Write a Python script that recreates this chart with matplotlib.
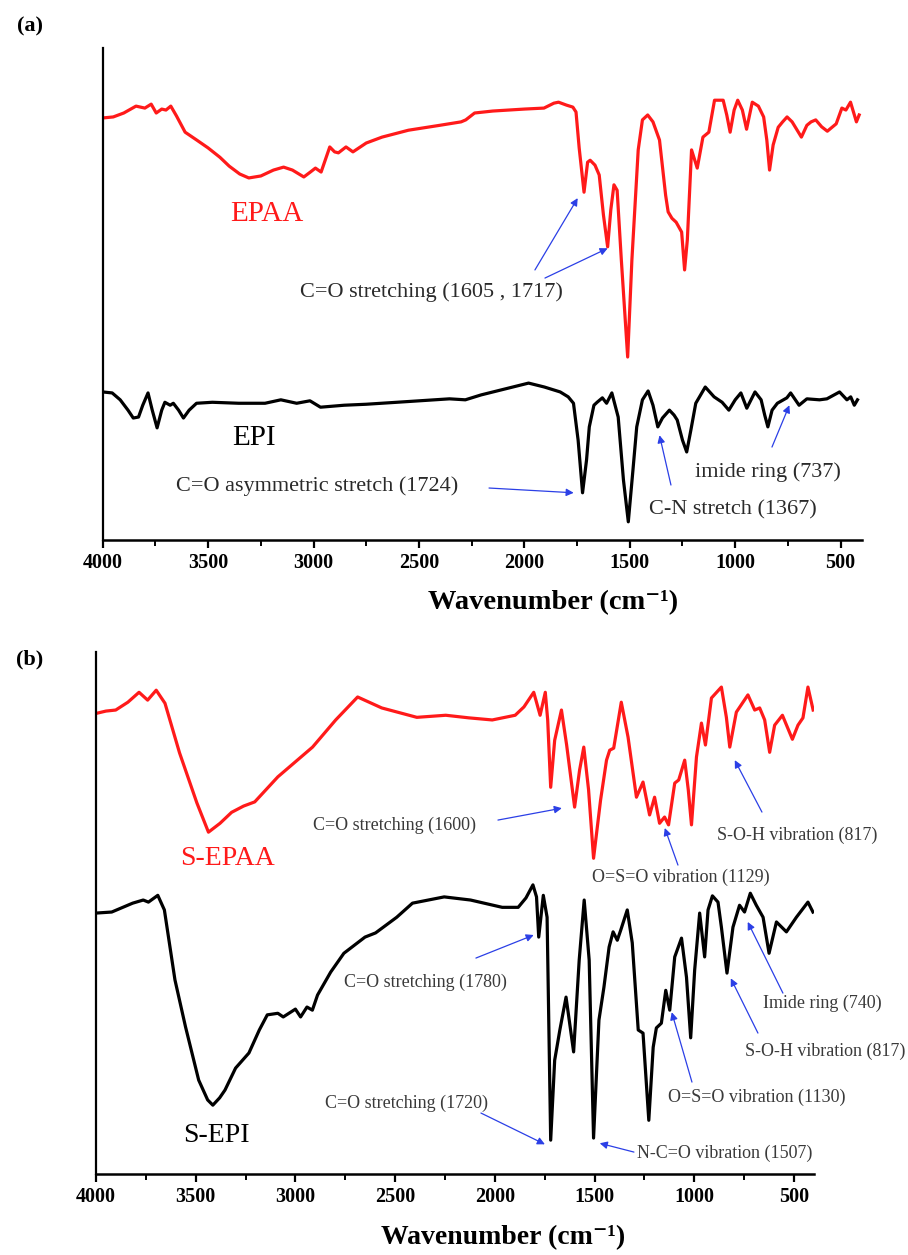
import matplotlib
matplotlib.use("Agg")
import matplotlib.pyplot as plt
from matplotlib.ticker import MultipleLocator

plt.rcParams["font.family"] = ["Liberation Serif", "DejaVu Serif"]

# ---------------- (a) EPAA / EPI ----------------
epaa_wn = [3998, 3950, 3900, 3842, 3800, 3770, 3746, 3720, 3700, 3677, 3650, 3609, 3554, 3500,
           3444, 3400, 3350, 3307, 3250, 3190, 3142, 3100, 3046, 3015, 2991, 2964, 2923, 2900,
           2882, 2846, 2813, 2750, 2675, 2550, 2401, 2300, 2278, 2236, 2150, 2000, 1907, 1860,
           1838, 1800, 1770, 1755, 1740, 1717, 1700, 1688, 1665, 1645, 1625, 1605, 1590, 1575,
           1560, 1540, 1510, 1490, 1460, 1440, 1415, 1390, 1359, 1330, 1318, 1300, 1280, 1254,
           1240, 1227, 1207, 1180, 1153, 1125, 1098, 1057, 1040, 1024, 1005, 988, 966, 946, 919,
           890, 865, 850, 837, 820, 796, 775, 754, 730, 686, 660, 640, 618, 590, 563, 521, 494,
           475, 453, 425, 412]
epaa_t = [85.8, 86.0, 86.8, 88.2, 87.8, 88.6, 86.8, 87.6, 87.4, 88.2, 86.2, 82.9, 81.3, 79.7,
          77.8, 76.0, 74.4, 73.6, 74.0, 75.2, 75.8, 75.2, 73.8, 74.8, 75.6, 74.8, 79.9, 78.9,
          78.7, 79.9, 78.9, 80.7, 81.9, 83.3, 84.3, 85.0, 85.4, 86.8, 87.2, 87.6, 87.8, 88.8,
          89.0, 88.4, 88.0, 87.0, 79.7, 70.7, 76.8, 77.2, 76.2, 74.2, 66.1, 59.6, 67.1, 72.2,
          71.1, 56.9, 37.2, 56.9, 79.3, 85.4, 86.4, 85.0, 81.3, 70.1, 66.7, 65.4, 64.6, 62.6,
          54.9, 61.0, 79.3, 75.6, 81.9, 82.9, 89.4, 89.4, 86.4, 82.9, 87.4, 89.4, 87.4, 83.5, 89.0,
          88.2, 86.0, 81.3, 75.2, 80.3, 83.9, 85.0, 86.0, 85.0, 81.9, 84.3, 85.0, 85.4, 84.0, 83.1,
          84.6, 87.8, 87.4, 89.0, 85.0, 86.4]

epi_wn = [4000, 3955, 3917, 3880, 3855, 3830, 3810, 3785, 3765, 3742, 3720, 3705, 3680, 3665,
          3640, 3617, 3590, 3555, 3480, 3355, 3230, 3155, 3080, 3017, 2967, 2855, 2750, 2605,
          2355, 2280, 2205, 2055, 1980, 1905, 1830, 1792, 1767, 1745, 1724, 1705, 1692, 1670,
          1655, 1630, 1610, 1585, 1555, 1530, 1507, 1485, 1467, 1440, 1413, 1390, 1367, 1345,
          1312, 1290, 1275, 1250, 1230, 1210, 1187, 1142, 1100, 1062, 1030, 1000, 973, 945, 906,
          877, 860, 845, 825, 800, 755, 737, 697, 660, 600, 565, 505, 470, 452, 435, 420]
epi_t = [30.1, 29.9, 28.5, 26.4, 24.8, 25.0, 27.4, 29.9, 26.4, 22.8, 26.4, 28.0, 27.4, 27.8,
         26.4, 24.8, 26.4, 27.8, 28.0, 27.8, 27.8, 28.5, 27.8, 28.3, 27.0, 27.4, 27.6, 28.0,
         28.7, 28.5, 29.5, 31.1, 31.9, 31.1, 30.1, 29.1, 27.8, 20.3, 9.6, 16.3, 23.0, 27.4,
         28.0, 28.9, 27.8, 29.9, 25.0, 12.2, 3.7, 14.2, 23.0, 28.5, 30.3, 27.4, 23.0, 24.8,
         26.4, 25.4, 24.4, 20.3, 17.9, 22.4, 27.8, 31.1, 29.1, 28.0, 26.4, 28.5, 29.9, 26.8, 30.1,
         28.5, 25.4, 23.0, 26.4, 27.8, 28.9, 29.9, 27.4, 28.7, 28.5, 28.7, 30.1, 28.5, 29.1, 27.4,
         28.5]

# ---------------- (b) S-EPAA / S-EPI ----------------
sepaa_wn = [3994, 3950, 3901, 3840, 3784, 3741, 3698, 3654, 3581, 3494, 3436, 3378, 3320, 3260,
            3204, 3088, 2972, 2914, 2798, 2688, 2567, 2391, 2246, 2130, 2013, 1898, 1854, 1805,
            1773, 1747, 1735, 1720, 1700, 1666, 1640, 1600, 1575, 1554, 1530, 1505, 1470, 1440,
            1424, 1404, 1366, 1332, 1290, 1257, 1224, 1199, 1174, 1149, 1129, 1098, 1078, 1048,
            1030, 1014, 989, 964, 944, 914, 864, 839, 822, 789, 731, 697, 672, 647, 622, 597, 558,
            508, 480, 455, 430, 404]
sepaa_t = [88.3, 88.7, 88.9, 90.4, 92.3, 90.8, 92.7, 90.2, 80.7, 71.1, 65.5, 67.2, 69.3, 70.5,
           71.3, 76.1, 79.9, 81.8, 87.0, 91.4, 89.3, 87.5, 87.9, 87.4, 87.0, 87.9, 89.5, 92.3,
           87.9, 92.3, 87.0, 74.1, 83.1, 88.9, 82.2, 70.3, 77.4, 81.8, 73.6, 60.5, 71.6, 79.3,
           81.2, 81.6, 90.4, 83.7, 72.2, 75.1, 68.8, 72.2, 67.2, 68.4, 66.9, 74.9, 75.5, 79.3,
           73.6, 66.9, 79.9, 86.4, 82.2, 91.2, 93.3, 87.5, 81.8, 88.5, 91.8, 88.9, 89.3, 87.0, 80.8,
           86.0, 87.9, 83.3, 86.0, 87.4, 93.3, 88.9]

sepi_wn = [4000, 3921, 3816, 3763, 3737, 3690, 3657, 3604, 3551, 3485, 3440, 3414, 3380, 3353,
           3300, 3233, 3181, 3141, 3088, 3061, 3000, 2974, 2942, 2915, 2889, 2823, 2757, 2651,
           2598, 2492, 2413, 2254, 2122, 1963, 1883, 1844, 1809, 1791, 1780, 1757, 1738, 1720,
           1700, 1674, 1643, 1605, 1577, 1552, 1527, 1505, 1478, 1453, 1427, 1407, 1386, 1369,
           1336, 1311, 1281, 1257, 1228, 1206, 1190, 1165, 1143, 1123, 1098, 1064, 1039, 1018,
           998, 973, 948, 931, 909, 881, 864, 836, 806, 773, 748, 719, 689, 655, 625, 588, 538,
           488, 430, 405]
sepi_t = [50.0, 50.2, 51.9, 52.5, 52.1, 53.4, 50.6, 37.2, 28.2, 18.0, 14.2, 13.2, 14.6, 16.1,
          20.3, 23.2, 27.6, 30.5, 30.8, 30.1, 31.6, 30.1, 32.0, 31.4, 34.3, 38.7, 42.3, 45.4,
          46.2, 49.2, 51.9, 53.1, 52.5, 51.1, 51.1, 52.9, 55.4, 53.1, 45.4, 53.4, 49.2, 6.5,
          21.8, 27.6, 33.9, 23.4, 41.0, 52.5, 41.0, 6.9, 29.5, 35.8, 43.5, 46.4, 44.8, 46.7,
          50.6, 44.3, 27.6, 27.0, 10.3, 24.3, 28.0, 28.9, 35.2, 31.4, 41.6, 45.2, 37.7, 26.1,
          39.1, 50.0, 41.6, 50.6, 53.3, 52.1, 47.3, 38.5, 47.3, 51.5, 50.2, 53.8, 51.5, 49.2, 42.3,
          48.3, 46.4, 49.2, 52.1, 50.2]

tick_values = [4000, 3500, 3000, 2500, 2000, 1500, 1000, 500]
tick_labels = ["4000", "3500", "3000", "2500", "2000", "1500", "1000", "500"]

# band assignments: (text, text x, text y, [(tail x, tail y, tip wavenumber, tip value), ...])
notes_a = [
    ("C=O stretching (1605 , 1717)", 0.260, 0.504,
     [(0.5695, 0.549, 1747, 69.5), (0.5827, 0.5325, 1605, 59.3)]),
    ("C=O asymmetric stretch (1724)", 0.0968, 0.110, [(0.509, 0.1057, 1766, 9.6)]),
    ("C-N stretch (1367)", 0.7197, 0.061, [(0.7487, 0.1118, 1359, 21.3)]),
    ("imide ring (737)", 0.7804, 0.138, [(0.8818, 0.189, 743, 27.4)]),
]
notes_b = [
    ("C=O stretching (1600)", 0.3022, 0.6686, [(0.5599, 0.6782, 1664, 70.1)]),
    ("S-O-H vibration (817)", 0.8649, 0.6494, [(0.9276, 0.6935, 797, 79.3)]),
    ("O=S=O vibration (1129)", 0.6908, 0.569, [(0.8106, 0.592, 1148, 66.3)]),
    ("C=O stretching (1780)", 0.3454, 0.3678, [(0.5292, 0.4138, 1805, 45.8)]),
    ("Imide ring (740)", 0.929, 0.3276, [(0.9568, 0.3467, 732, 48.3)]),
    ("S-O-H vibration (817)", 0.9039, 0.2356, [(0.922, 0.2701, 817, 37.5)]),
    ("O=S=O vibration (1130)", 0.7967, 0.1475, [(0.8301, 0.1762, 1113, 31.0)]),
    ("C=O stretching (1720)", 0.3189, 0.136, [(0.5362, 0.1169, 1749, 5.7)]),
    ("N-C=O vibration (1507)", 0.7535, 0.0402, [(0.7493, 0.0421, 1474, 5.9)]),
]

RED = "#ff1a1a"
ARROW = "#2b3fe6"

fig = plt.figure(figsize=(9.08, 12.55), dpi=100)
ax_a = fig.add_axes([0.1131, 0.5697, 0.8359, 0.3920])
ax_b = fig.add_axes([0.1057, 0.0645, 0.7907, 0.4159])


def style_axes(ax):
    ax.set_xlim(4000, 400)
    ax.set_ylim(0, 100)
    for side in ("top", "right"):
        ax.spines[side].set_visible(False)
    ax.spines["left"].set_linewidth(1.6)
    ax.spines["bottom"].set_linewidth(1.8)
    ax.set_yticks([])
    ax.set_xticks(tick_values)
    ax.set_xticklabels(tick_labels)
    ax.xaxis.set_minor_locator(MultipleLocator(250))
    ax.tick_params(axis="x", which="major", direction="out", length=6, width=1.6, pad=3)
    ax.tick_params(axis="x", which="minor", direction="out", length=4, width=1.4)
    for lab in ax.get_xticklabels():
        lab.set_fontweight("bold")
        lab.set_fontsize(14.5)


def add_notes(ax, notes, size, color):
    for text, tx, ty, arrows in notes:
        ax.text(tx, ty, text, transform=ax.transAxes, ha="left", va="center",
                fontsize=size, color=color, clip_on=False)
        for ax0, ay0, wn, val in arrows:
            ax.annotate("", xy=(wn, val), xycoords="data",
                        xytext=(ax0, ay0), textcoords="axes fraction",
                        arrowprops=dict(arrowstyle="-|>", color=ARROW, lw=0.9,
                                        shrinkA=0, shrinkB=0, mutation_scale=11),
                        annotation_clip=False)


style_axes(ax_a)
style_axes(ax_b)

ax_a.plot(epaa_wn, epaa_t, color=RED, lw=2.3)
ax_a.plot(epi_wn, epi_t, color="black", lw=2.3)
ax_b.plot(sepaa_wn, sepaa_t, color=RED, lw=2.3)
ax_b.plot(sepi_wn, sepi_t, color="black", lw=2.3)

ax_a.text(0.168, 0.6626, "EPAA", transform=ax_a.transAxes, color=RED, fontsize=21,
          ha="left", va="center")
ax_a.text(0.1706, 0.2073, "EPI", transform=ax_a.transAxes, color="black", fontsize=21,
          ha="left", va="center")
ax_b.text(0.117, 0.6054, "S-EPAA", transform=ax_b.transAxes, color=RED, fontsize=20,
          ha="left", va="center")
ax_b.text(0.1212, 0.0747, "S-EPI", transform=ax_b.transAxes, color="black", fontsize=20,
          ha="left", va="center")

add_notes(ax_a, notes_a, 16, "#2a2a2a")
add_notes(ax_b, notes_b, 13, "#3a3a3a")

xlabel = "Wavenumber (cm\u207b\u00b9)"
fig.text(0.609, 0.5195, xlabel, ha="center", va="center", fontsize=20.5, fontweight="bold")
fig.text(0.554, 0.0135, xlabel, ha="center", va="center", fontsize=20, fontweight="bold")

fig.text(0.033, 0.9785, "(a)", ha="center", va="center", fontsize=16, fontweight="bold")
fig.text(0.033, 0.4749, "(b)", ha="center", va="center", fontsize=16, fontweight="bold")

fig.savefig("out.png", dpi=100)
